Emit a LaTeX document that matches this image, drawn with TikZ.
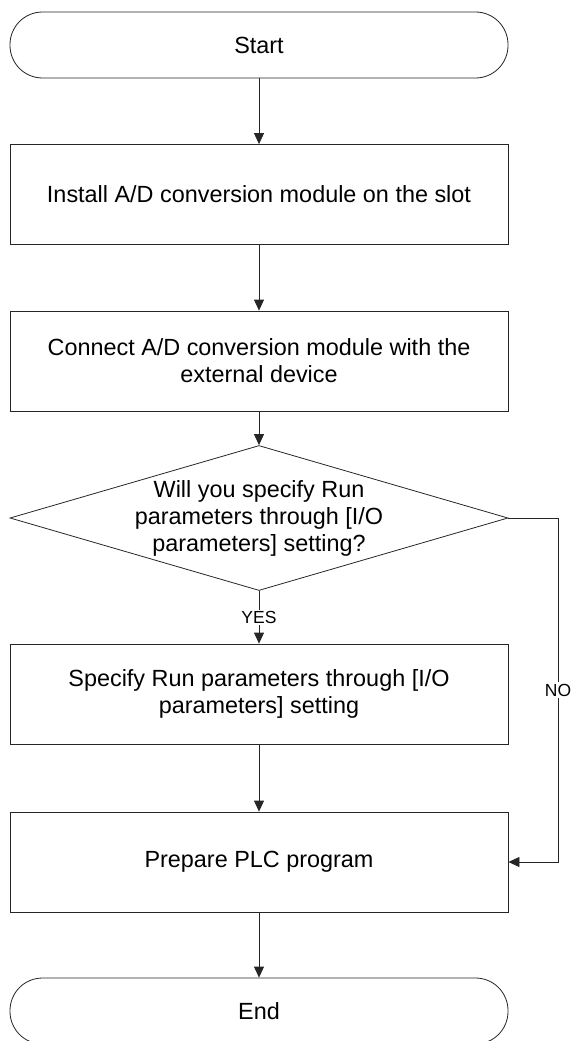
\documentclass[tikz,border=0pt]{standalone}
\usepackage{fontspec}
\setmainfont{Liberation Sans}
\usetikzlibrary{arrows.meta,shapes.geometric}
\tikzset{
  lineclr/.style={draw=black!85, line width=0.8pt},
  txt/.style={font=\fontsize{23.4}{27}\selectfont, align=center},
  terminal/.style={lineclr, txt, rounded corners=32.5pt, minimum width=498pt, minimum height=66pt, inner sep=0pt},
  procbox/.style={lineclr, txt, minimum width=498pt, minimum height=100pt, inner sep=0pt},
  decbox/.style={lineclr, diamond, minimum width=498pt, minimum height=145pt, inner sep=0pt},
  conn/.style={lineclr, -{Triangle[length=11pt,width=10pt]}},
  plain/.style={lineclr},
  lbl/.style={font=\fontsize{17.5}{20}\selectfont, fill=white, inner sep=1.5pt}
}
\begin{document}
\begin{tikzpicture}[x=1pt,y=-1pt]
\useasboundingbox (0,0) rectangle (571,1041);
\node[terminal] (start) at (259,45) {Start};
\node[procbox] (install) at (259,194.5) {Install A/D conversion module on the slot};
\node[procbox] (connect) at (259,361) {Connect A/D conversion module with the\\external device};
\node[decbox] (dec) at (259,518) {};
\node[txt] (dectext) at (259,518) {Will you specify Run\\parameters through [I/O\\parameters] setting?};
\node[procbox] (specify) at (259,694) {Specify Run parameters through [I/O\\parameters] setting};
\node[procbox] (prepare) at (259,862) {Prepare PLC program};
\node[terminal] (end) at (259,1011) {End};
\coordinate (nocorner) at (558,518);

\draw[conn] (start) -- (install);
\draw[conn] (install) -- (connect);
\draw[conn] (connect) -- (dec.north);
\draw[conn] (dec.south) -- node[lbl, pos=0.5] (yes) {YES} (specify);
\draw[conn] (specify) -- (prepare);
\draw[conn] (prepare) -- (end);
\draw[conn] (dec.east) -- (nocorner) |- (prepare.east);
\node[lbl] (no) at (558,690) {NO};
\end{tikzpicture}
\end{document}
